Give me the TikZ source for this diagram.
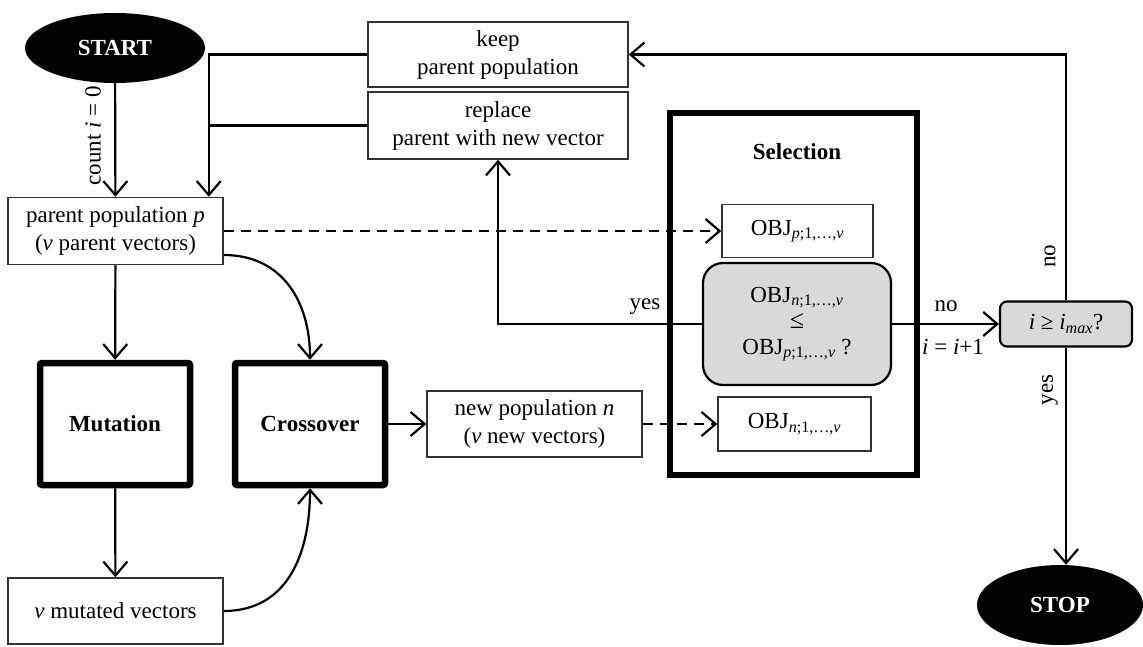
\documentclass[tikz,border=0pt]{standalone}
\usepackage{fontspec}
\setmainfont{Liberation Serif}
\usetikzlibrary{arrows.meta,shapes.geometric}
\begin{document}
\begin{tikzpicture}[x=1pt,y=1pt,
  every node/.style={font=\fontsize{23}{28}\selectfont},
  thinbox/.style={draw=black!80, line width=1.5pt, fill=white, inner sep=0pt, align=center},
  thickbox/.style={draw=black, line width=6.5pt, rounded corners=2pt, inner sep=0pt, align=center, font=\fontsize{23}{28}\selectfont\bfseries},
  term/.style={ellipse, fill=black, text=white, inner sep=0pt, font=\fontsize{23}{28}\selectfont\bfseries},
  decide/.style={draw=black, line width=2.2pt, fill=black!15, inner sep=0pt, align=center},
  conn/.style={line width=2.2pt},
  arr/.style={conn, -{Straight Barb[length=14pt,width=24pt]}},
  dasharr/.style={arr, dash pattern=on 10pt off 7pt},
  lbl/.style={inner sep=1pt}
]
\useasboundingbox (0,0) rectangle (1143,-647);

% Selection frame
\node[draw=black, line width=6.5pt, minimum width=247pt, minimum height=362pt, inner sep=0pt] (sel) at (793.5,-294) {};
\node[font=\fontsize{23}{28}\selectfont\bfseries] (seltitle) at (797,-152) {Selection};

% Nodes
\node[term, minimum width=180pt, minimum height=70pt] (start) at (115,-48) {START};
\node[term, minimum width=166pt, minimum height=80pt] (stop) at (1060,-605) {STOP};

\node[thinbox, minimum width=215pt, minimum height=67pt] (parent) at (115.5,-231) {parent population \textit{p}\\(\textit{v} parent vectors)};
\node[thinbox, minimum width=260pt, minimum height=65pt] (keep) at (498,-54.5) {keep\\parent population};
\node[thinbox, minimum width=260pt, minimum height=67pt] (replace) at (498,-125.5) {replace\\parent with new vector};

\node[thickbox, minimum width=150pt, minimum height=122pt] (mut) at (115,-424) {Mutation};
\node[thickbox, minimum width=150pt, minimum height=122pt] (cross) at (310,-424) {Crossover};

\node[thinbox, minimum width=215pt, minimum height=66pt] (vmut) at (115.5,-611) {\textit{v} mutated vectors};
\node[thinbox, minimum width=215pt, minimum height=66pt] (newpop) at (534.5,-424) {new population \textit{n}\\(\textit{v} new vectors)};

\node[thinbox, minimum width=151pt, minimum height=53pt] (objp) at (797.5,-231) {OBJ\textsubscript{\textit{p};1,\dots,\textit{v}}};
\node[thinbox, minimum width=153pt, minimum height=54pt] (objn) at (794.5,-424) {OBJ\textsubscript{\textit{n};1,\dots,\textit{v}}};

\node[decide, rounded corners=20pt, minimum width=188pt, minimum height=122pt, font=\fontsize{23}{26}\selectfont] (cmp) at (797,-324) {OBJ\textsubscript{\textit{n};1,\dots,\textit{v}}\\{\fontsize{26}{26}\selectfont ≤}\\OBJ\textsubscript{\textit{p};1,\dots,\textit{v}} ?};

\node[decide, rounded corners=7pt, minimum width=132pt, minimum height=45pt] (imax) at (1066,-324) {\textit{i} ≥ \textit{i}\textsubscript{\textit{max}}?};

% Connectors
\coordinate (pj) at ([xshift=-15pt]parent.north east);
\draw[arr] (start) -- (parent);
\node[lbl, rotate=90] (cnt) at (93,-136) {count \textit{i} = 0};
\draw[arr] (keep.west) -| (pj);
\draw[conn] (replace.west) -- (replace.west -| pj);

\draw[dasharr] (parent.east) -- (objp.west);
\draw[arr] (parent) -- (mut);
\draw[arr] ([yshift=-24pt]parent.east) to[out=0,in=90,looseness=1.1] (cross.north);
\draw[arr] (mut) -- (vmut);
\draw[arr] (vmut.east) to[out=0,in=-90,looseness=1.1] (cross.south);
\draw[arr] (cross.east) -- (newpop.west);
\draw[dasharr] (newpop.east) -- (objn.west);

\draw[arr] (cmp.west) -| (replace.south);
\node[lbl] (yeslbl) at (645,-307) {yes};
\draw[arr] (cmp.east) -- (imax.west);
\node[lbl] (nolbl) at (946,-306) {no};
\node[lbl] (inc) at (953,-347) {\textit{i} = \textit{i}+1};

\draw[arr] (imax.north) |- (keep.east);
\node[lbl, rotate=90] (no2) at (1050,-256) {no};
\draw[arr] (imax.south) -- (imax.south |- stop.north);
\node[lbl, rotate=90] (yes2) at (1050,-390) {yes};
\end{tikzpicture}
\end{document}
